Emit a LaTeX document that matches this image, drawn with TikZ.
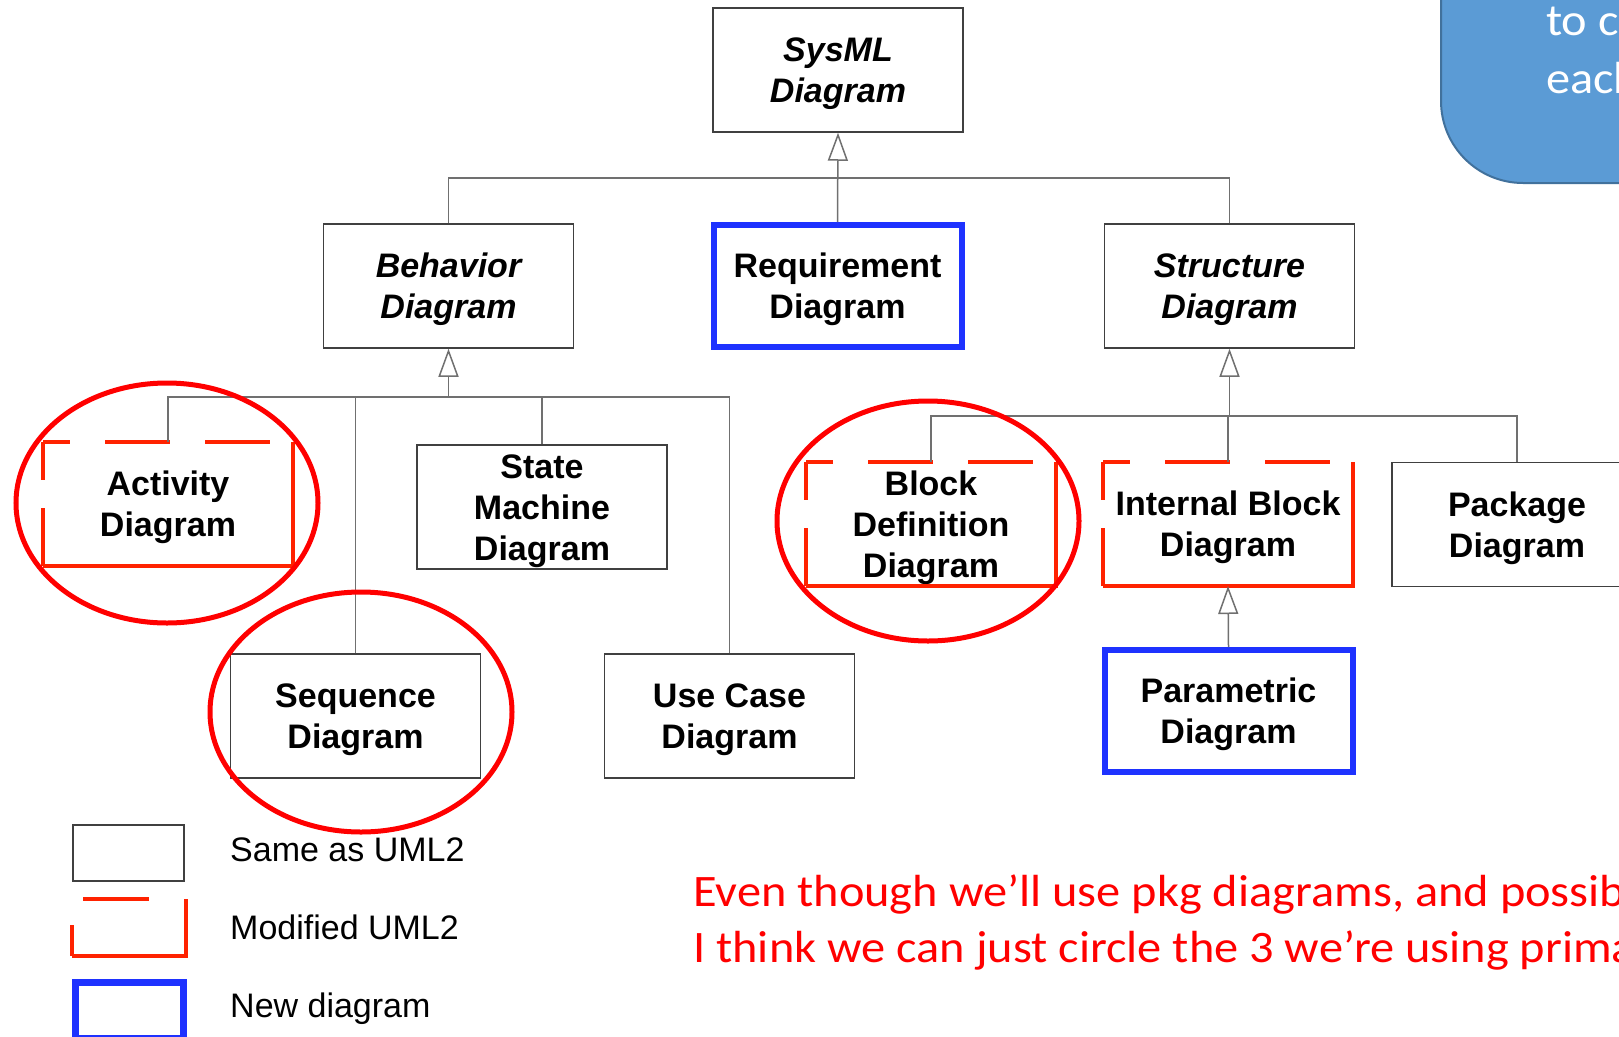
\documentclass[tikz,border=0pt]{standalone}
\usepackage{fontspec}
\setmainfont{Liberation Sans}
\newfontfamily\notefont[FakeStretch=1.075]{Carlito}
\usetikzlibrary{arrows.meta}

\definecolor{boxgray}{HTML}{404040}
\definecolor{linegray}{HTML}{707070}
\definecolor{modred}{HTML}{FF2200}
\definecolor{ringred}{HTML}{FF0000}
\definecolor{newblue}{HTML}{1E32FF}
\definecolor{calloutfill}{HTML}{5B9BD5}
\definecolor{calloutedge}{HTML}{41719C}

% taller first line, so the label block sits a little lower in its box
\newcommand\topline{\rule{0pt}{32pt}}

% outline of a "modified" box: dashed top and left, solid right and bottom
\newcommand\modframe[1]{%
  \draw[modline, dash pattern=on 27pt off 35pt on 65pt off 35pt on 65pt off 60pt]
    (#1.north west) -- (#1.north east);
  \draw[modline, dash pattern=on 38pt off 28pt on 200pt]
    (#1.north west) -- (#1.south west);
  \draw[modline] (#1.north east) -- (#1.south east) -- (#1.south west);
}

\tikzset{
  boxfont/.style={font=\fontsize{34}{41}\selectfont\bfseries},
  absfont/.style={font=\fontsize{34}{41}\selectfont\bfseries\itshape},
  diag/.style={rectangle, minimum width=250pt, minimum height=124pt,
    align=center, inner sep=0pt, fill=white, boxfont},
  plainbox/.style={diag, draw=boxgray, line width=1.5pt},
  modbox/.style={diag, outer sep=0pt},
  newbox/.style={diag, draw=newblue, line width=6pt,
    minimum width=248pt, minimum height=122pt},
  modline/.style={draw=modred, line width=4pt},
  conn/.style={draw=linegray, line width=1.5pt},
  gen/.style={conn, -{Triangle[open, length=28pt, width=20pt, fill=white]}},
  ring/.style={draw=ringred, line width=5pt},
  legendtext/.style={anchor=base west, inner sep=0pt,
    font=\fontsize{34}{41}\selectfont},
  notetext/.style={anchor=base west, inner sep=0pt, text=ringred,
    font=\notefont\fontsize{45}{57}\selectfont},
  callouttext/.style={anchor=base west, inner sep=0pt, text=white,
    font=\notefont\fontsize{45}{57}\selectfont},
}

\begin{document}
\begin{tikzpicture}[x=1pt, y=-1pt]
\useasboundingbox (0,0) rectangle (1619,1036);
\clip (0,0) rectangle (1619,1036);
\fill[white] (0,0) rectangle (1619,1036);

% callout in the top right corner
\draw[fill=calloutfill, draw=calloutedge, line width=2pt, rounded corners=82pt]
  (1441,-120) -- (1441,183) -- (1720,183) -- (1720,-120) -- cycle;
\node[callouttext] (callA) at (1546,35) {to c};
\node[callouttext] (callB) at (1546,93) {each};

% diagram kinds
\node[plainbox, absfont] (sys) at (838,70) {\topline SysML\\Diagram};
\node[plainbox, absfont] (beh) at (448.5,286) {\topline Behavior\\Diagram};
\node[newbox] (req) at (837.5,286) {\topline Requirement\\Diagram};
\node[plainbox, absfont] (str) at (1229.5,286) {\topline Structure\\Diagram};

\node[modbox] (act) at (168,504) {\topline Activity\\Diagram};
\node[plainbox] (stm) at (542,507) {\topline State\\Machine\\Diagram};
\node[plainbox] (seq) at (355.5,716) {\topline Sequence\\Diagram};
\node[plainbox] (uc) at (729.5,716) {\topline Use Case\\Diagram};

\node[modbox] (bdd) at (931,524) {\topline Block\\Definition\\Diagram};
\node[modbox] (ibd) at (1228,524) {\topline Internal Block\\Diagram};
\node[plainbox] (pkg) at (1517,524.5) {\topline Package\\Diagram};
\node[newbox] (par) at (1228.5,711) {\topline Parametric\\Diagram};

\modframe{act}
\modframe{bdd}
\modframe{ibd}

% generalization connectors
\coordinate (sysj) at (838,178);
\draw[conn] (beh.north) |- (sysj);
\draw[conn] (str.north) |- (sysj);
\draw[gen] (req.north) -- (sys.south);

\coordinate (behj) at (448.5,397);
\draw[conn] (act.north) |- (behj) -| (uc.north);
\draw[conn] (seq.north) -- (seq.north |- behj);
\draw[conn] (stm.north) -- (stm.north |- behj);
\draw[gen] (behj) -- (beh.south);

\coordinate (strj) at (1229.5,416);
\draw[conn] (bdd.north) |- (strj) -| (pkg.north);
\draw[conn] (ibd.north) -- (ibd.north |- strj);
\draw[gen] (strj) -- (str.south);

\draw[gen] (par.north) -- (ibd.south);

% circled diagrams
\draw[ring] ([shift={(-1,-1)}]act.center) ellipse [x radius=151, y radius=120];
\draw[ring] ([shift={(5.5,-4)}]seq.center) ellipse [x radius=151, y radius=120];
\draw[ring] ([shift={(-3,-3)}]bdd.center) ellipse [x radius=151, y radius=120];

% legend
\node[rectangle, draw=boxgray, line width=1.5pt, minimum width=111pt,
  minimum height=56pt, inner sep=0pt] (legsame) at (128.5,853) {};
\node[rectangle, minimum width=114pt, minimum height=57pt, inner sep=0pt,
  outer sep=0pt] (legmod) at (129,927.5) {};
\draw[modline, dash pattern=on 0pt off 11pt on 66pt off 100pt]
  (legmod.north west) -- (legmod.north east);
\draw[modline, dash pattern=on 0pt off 26pt on 100pt]
  (legmod.north west) -- (legmod.south west);
\draw[modline] (legmod.north east) -- (legmod.south east) -- (legmod.south west);
\node[rectangle, draw=newblue, line width=7pt, minimum width=108pt,
  minimum height=56pt, inner sep=0pt] (legnew) at (129.5,1010) {};

\node[legendtext] (labsame) at (230,861) {Same as UML2};
\node[legendtext] (labmod) at (230,939) {Modified UML2};
\node[legendtext] (labnew) at (230,1017) {New diagram};

% remark
\node[notetext] (noteA) at (693,906) {Even though we’ll use pkg diagrams, and possib};
\node[notetext] (noteB) at (693,962) {I think we can just circle the 3 we’re using prima};
\end{tikzpicture}
\end{document}
